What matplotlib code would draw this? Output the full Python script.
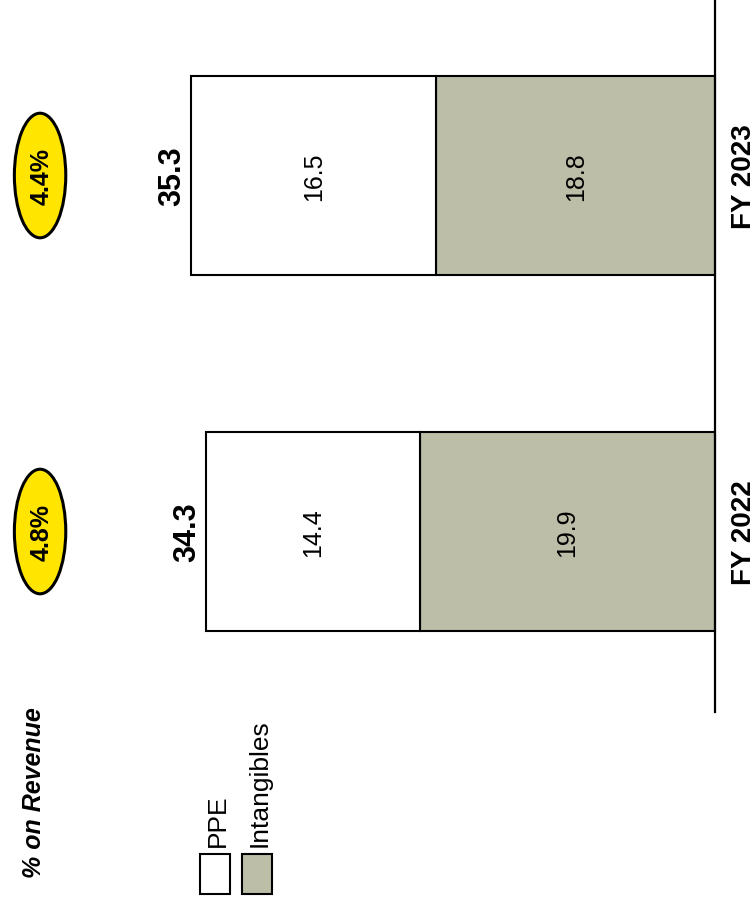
import matplotlib.pyplot as plt
from matplotlib.patches import Ellipse, Rectangle
from matplotlib.transforms import blended_transform_factory

plt.rcParams['font.family'] = ['Liberation Sans', 'DejaVu Sans']

# data
years = ['FY 2022', 'FY 2023']
ppe = [14.4, 16.5]
intangibles = [19.9, 18.8]
totals = [34.3, 35.3]
pct_revenue = ['4.8%', '4.4%']

grey = '#bdbea8'
yellow = '#ffe500'

fig = plt.figure(figsize=(7.56, 9.04), dpi=100)
ax = fig.add_axes([0, 0, 1, 1])
ax.set_axis_off()

# the chart is drawn turned a quarter turn: values grow to the left
pos = list(range(len(years)))
h = 0.56
ax.barh(pos, intangibles, height=h, color=grey, edgecolor='black', linewidth=1.5)
ax.barh(pos, ppe, left=intangibles, height=h, color='white', edgecolor='black', linewidth=1.5)
ax.set_xlim(48.21, -2.76)
ax.set_ylim(-1.0435, 1.4958)
ax.axvline(0, ymin=0.211, ymax=1, color='black', linewidth=1.6)

for i in pos:
    ax.text(intangibles[i] / 2, i, f'{intangibles[i]:.1f}', rotation=90,
            ha='center', va='center', fontsize=18)
    ax.text(intangibles[i] + ppe[i] / 2, i, f'{ppe[i]:.1f}', rotation=90,
            ha='center', va='center', fontsize=18)
    ax.annotate(f'{totals[i]:.1f}', xy=(totals[i], i), xytext=(-3, 0),
                textcoords='offset points', rotation=90, ha='right', va='center',
                fontsize=22, fontweight='bold')

# category labels and % on revenue ovals
trans = blended_transform_factory(ax.transAxes, ax.transData)
for i in pos:
    ax.text(0.9835, i, years[i], transform=trans, rotation=90, ha='center',
            va='center', fontsize=20, fontweight='bold')
    ax.add_patch(Ellipse((0.053, i), width=0.068, height=0.35, transform=trans,
                         facecolor=yellow, edgecolor='black', linewidth=2.2))
    ax.text(0.055, i, pct_revenue[i], transform=trans, rotation=90, ha='center',
            va='center', fontsize=18, fontweight='bold')

fig.text(0.045, 0.1234, '% on Revenue', rotation=90, ha='center', va='center',
         fontsize=18, fontweight='bold', fontstyle='italic')

# legend
legend_items = [('PPE', 'white', 0.2646, 0.288), ('Intangibles', grey, 0.3201, 0.343)]
for label, color, x0, tx in legend_items:
    fig.patches.append(Rectangle((x0, 0.01), 0.0397, 0.0442, transform=fig.transFigure,
                                 facecolor=color, edgecolor='black', linewidth=1.5))
    fig.text(tx, 0.063, label, rotation=90, ha='center', va='bottom', fontsize=19)

fig.savefig('out.png', dpi=100)
